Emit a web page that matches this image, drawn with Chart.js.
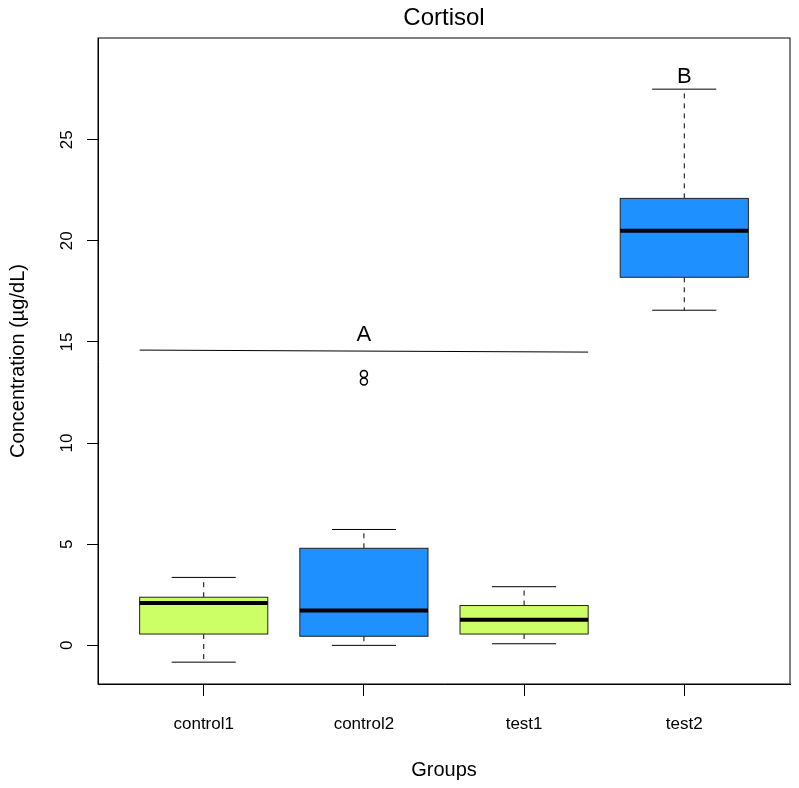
<!DOCTYPE html>
<html>
<head>
<meta charset="utf-8">
<script src="https://cdn.jsdelivr.net/npm/chart.js@4"></script>
<style>
  body { margin: 0; background: #fff; }
</style>
</head>
<body>
<canvas id="box-chart" width="799" height="788"></canvas>
<script>
// box plot stats
var groups = ['control1', 'control2', 'test1', 'test2'];
var whiskerLow = [-0.83, 0.0, 0.08, 16.57];
var q1 = [0.56, 0.45, 0.56, 18.2];
var median = [2.1, 1.73, 1.27, 20.5];
var q3 = [2.38, 4.8, 1.97, 22.1];
var whiskerHigh = [3.36, 5.73, 2.9, 27.5];
var boxColors = ['#CCFF66', '#1E90FF', '#CCFF66', '#1E90FF'];
var outlierX = [2, 2];
var outlierY = [13.42, 13.05];
var yTicks = [0, 5, 10, 15, 20, 25];
// letters above groups
var lineA = [{x: 0.6, y: 14.6}, {x: 3.4, y: 14.5}];
var letters = [{text: 'A', x: 2, y: 15.35}, {text: 'B', x: 4, y: 28.1}];

var FONT = '"Liberation Sans", Arial, sans-serif';

var boxPlugin = {
    id: 'boxes',
    beforeDatasetsDraw: function (chart) {
        var ctx = chart.ctx, xs = chart.scales.x, ys = chart.scales.y;
        ctx.save();
        for (var i = 0; i < groups.length; i++) {
            var cx = xs.getPixelForValue(i + 1);
            var half = xs.getPixelForValue(i + 1.4) - cx;
            var capHalf = half / 2;
            // whiskers
            ctx.strokeStyle = '#000';
            ctx.lineWidth = 1;
            ctx.setLineDash([5, 5]);
            ctx.beginPath();
            ctx.moveTo(cx, ys.getPixelForValue(q3[i]));
            ctx.lineTo(cx, ys.getPixelForValue(whiskerHigh[i]));
            ctx.moveTo(cx, ys.getPixelForValue(q1[i]));
            ctx.lineTo(cx, ys.getPixelForValue(whiskerLow[i]));
            ctx.stroke();
            ctx.setLineDash([]);
            // caps
            ctx.beginPath();
            ctx.moveTo(cx - capHalf, ys.getPixelForValue(whiskerHigh[i]));
            ctx.lineTo(cx + capHalf, ys.getPixelForValue(whiskerHigh[i]));
            ctx.moveTo(cx - capHalf, ys.getPixelForValue(whiskerLow[i]));
            ctx.lineTo(cx + capHalf, ys.getPixelForValue(whiskerLow[i]));
            ctx.stroke();
            // box
            var top = ys.getPixelForValue(q3[i]);
            var bot = ys.getPixelForValue(q1[i]);
            ctx.fillStyle = boxColors[i];
            ctx.fillRect(cx - half, top, half * 2, bot - top);
            ctx.strokeStyle = '#222';
            ctx.strokeRect(cx - half, top, half * 2, bot - top);
            // median
            ctx.strokeStyle = '#000';
            ctx.lineWidth = 4;
            ctx.beginPath();
            ctx.moveTo(cx - half, ys.getPixelForValue(median[i]));
            ctx.lineTo(cx + half, ys.getPixelForValue(median[i]));
            ctx.stroke();
        }
        ctx.restore();
    },
    afterDraw: function (chart) {
        var ctx = chart.ctx, xs = chart.scales.x, ys = chart.scales.y, a = chart.chartArea;
        ctx.save();
        // frame
        ctx.strokeStyle = '#000';
        ctx.lineWidth = 1;
        ctx.strokeRect(a.left, a.top, a.right - a.left, a.bottom - a.top);
        ctx.fillStyle = '#000';
        ctx.textAlign = 'center';
        ctx.textBaseline = 'middle';
        // y tick labels, rotated like R
        ctx.font = '17px ' + FONT;
        yTicks.forEach(function (t) {
            ctx.save();
            ctx.translate(67, ys.getPixelForValue(t));
            ctx.rotate(-Math.PI / 2);
            ctx.fillText(String(t), 0, 0);
            ctx.restore();
        });
        // letters
        ctx.font = '22px ' + FONT;
        letters.forEach(function (l) {
            ctx.fillText(l.text, xs.getPixelForValue(l.x), ys.getPixelForValue(l.y));
        });
        var mid = (a.left + a.right) / 2;
        ctx.font = '24px ' + FONT;
        ctx.fillText('Cortisol', mid, 18);
        ctx.font = '20px ' + FONT;
        ctx.fillText('Groups', mid, 770);
        ctx.save();
        ctx.translate(18, (a.top + a.bottom) / 2);
        ctx.rotate(-Math.PI / 2);
        ctx.fillText('Concentration (µg/dL)', 0, 0);
        ctx.restore();
        ctx.restore();
    }
};

new Chart(document.getElementById('box-chart'), {
    type: 'scatter',
    data: {
        datasets: [{
            type: 'line',
            data: lineA,
            borderColor: '#000',
            borderWidth: 1,
            pointRadius: 0,
            fill: false
        }, {
            data: outlierX.map(function (x, i) { return {x: x, y: outlierY[i]}; }),
            pointRadius: 3.5,
            pointBorderWidth: 1.5,
            borderColor: '#000',
            backgroundColor: 'rgba(0,0,0,0)'
        }]
    },
    options: {
        responsive: false,
        animation: false,
        events: [],
        layout: { padding: { top: 38, right: 9, left: 0, bottom: 0 } },
        plugins: { legend: { display: false }, tooltip: { enabled: false } },
        scales: {
            x: {
                type: 'linear',
                min: 0.34,
                max: 4.66,
                afterBuildTicks: function (s) { s.ticks = groups.map(function (g, i) { return {value: i + 1}; }); },
                afterFit: function (s) { s.height = 104; },
                ticks: {
                    callback: function (v) { return groups[v - 1]; },
                    color: '#000',
                    font: { size: 17, family: FONT },
                    padding: 18,
                    maxRotation: 0
                },
                grid: { drawOnChartArea: false, tickLength: 12, color: '#000' },
                border: { color: '#000' }
            },
            y: {
                min: -1.91,
                max: 30.03,
                afterBuildTicks: function (s) { s.ticks = yTicks.map(function (t) { return {value: t}; }); },
                afterFit: function (s) { s.width = 98; },
                ticks: { display: false },
                grid: { drawOnChartArea: false, tickLength: 11, color: '#000' },
                border: { color: '#000' }
            }
        }
    },
    plugins: [boxPlugin]
});
</script>
</body>
</html>
